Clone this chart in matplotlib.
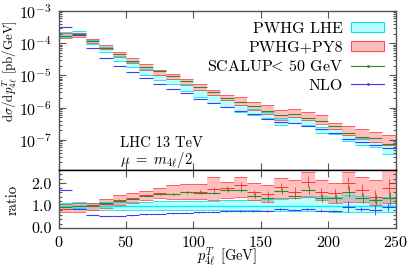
import matplotlib
matplotlib.use("Agg")
import matplotlib.pyplot as plt
import numpy as np
from matplotlib.patches import Patch
from matplotlib.lines import Line2D
from matplotlib.ticker import MultipleLocator, LogLocator, NullFormatter, FormatStrFormatter

plt.rcParams.update({
    "font.family": "serif",
    "font.serif": ["cmr10"],
    "mathtext.fontset": "cm",
    "axes.formatter.use_mathtext": True,
    "font.size": 11.5,
    "axes.unicode_minus": False,
})

# ---------------- data ----------------
bin_edges = list(range(0, 260, 10))

py8_lo = [1.44e-4, 1.58e-4, 9.86e-5, 6.44e-5, 3.66e-5, 2.39e-5, 1.53e-5, 1.07e-5, 7.91e-6, 4.92e-6,
          3.45e-6, 2.43e-6, 1.70e-6, 1.19e-6, 8.38e-7, 6.31e-7, 4.12e-7, 4.99e-7, 4.12e-7, 3.11e-7,
          2.13e-7, 1.43e-7, 1.05e-7, 8.87e-8, 7.01e-8]
py8_hi = [2.06e-4, 2.15e-4, 1.37e-4, 8.55e-5, 5.47e-5, 3.51e-5, 2.29e-5, 1.50e-5, 1.13e-5, 7.91e-6,
          5.28e-6, 3.63e-6, 2.55e-6, 2.15e-6, 1.51e-6, 1.19e-6, 8.38e-7, 8.81e-7, 7.43e-7, 5.88e-7,
          3.41e-7, 2.70e-7, 2.13e-7, 1.80e-7, 1.43e-7]
scalup = [1.70e-4, 1.92e-4, 1.14e-4, 6.92e-5, 4.65e-5, 2.83e-5, 1.89e-5, 1.33e-5, 9.5e-6, 6.68e-6,
          4.36e-6, 3.06e-6, 2.06e-6, 1.51e-6, 1.11e-6, 7.98e-7, 5.88e-7, 6.18e-7, 4.65e-7, 3.84e-7,
          2.70e-7, 1.61e-7, 1.26e-7, 1.13e-7, 7.38e-8]
lhe_lo = [1.51e-4, 2.06e-4, 9.66e-5, 5.21e-5, 2.90e-5, 1.80e-5, 1.07e-5, 7.01e-6, 5.56e-6, 3.29e-6,
          2.15e-6, 1.41e-6, 1.06e-6, 7.43e-7, 5.88e-7, 4.65e-7, 2.90e-7, 3.26e-7, 2.90e-7, 1.61e-7,
          1.53e-7, 9.5e-8, 7.01e-8, 6.22e-8, 3.71e-8]
lhe_hi = [2.31e-4, 2.37e-4, 1.28e-4, 7.43e-5, 4.12e-5, 2.57e-5, 1.64e-5, 1.07e-5, 7.91e-6, 5.56e-6,
          3.45e-6, 2.43e-6, 1.70e-6, 1.19e-6, 9.45e-7, 7.43e-7, 4.65e-7, 4.99e-7, 4.12e-7, 2.57e-7,
          2.13e-7, 1.43e-7, 1.13e-7, 8.87e-8, 7.01e-8]
nlo = [3.22e-4, 1.79e-4, 7.11e-5, 3.51e-5, 2.03e-5, 1.30e-5, 8.09e-6, 5.40e-6, 3.79e-6, 2.85e-6,
       1.92e-6, 1.41e-6, 1.06e-6, 7.80e-7, 6.31e-7, 4.43e-7, 3.58e-7, 3.26e-7, 2.70e-7, 2.13e-7,
       1.68e-7, 1.05e-7, 8.68e-8, 6.87e-8, 5.55e-8]

# ratio panel
r_py8_lo = [0.73, 0.73, 0.81, 0.88, 1.03, 1.11, 1.26, 1.33, 1.29, 1.29, 1.29, 1.26, 1.33, 1.40, 1.26,
            1.18, 1.33, 1.33, 1.40, 1.26, 1.11, 1.18, 1.18, 1.03, 1.11]
r_py8_hi = [1.08, 1.11, 1.13, 1.29, 1.48, 1.56, 1.67, 1.78, 1.93, 1.97, 1.97, 2.30, 2.08, 2.30, 2.00,
            1.93, 2.23, 2.15, 2.52, 2.15, 2.00, 2.52, 2.30, 2.15, 2.60]
r_py8 = [0.85, 0.87, 0.97, 1.08, 1.25, 1.33, 1.46, 1.55, 1.52, 1.60, 1.62, 1.75, 1.78, 1.93, 1.60,
         1.52, 1.85, 1.63, 2.08, 1.60, 1.56, 2.00, 1.70, 1.40, 1.78]
r_py8_err = [0.02, 0.02, 0.02, 0.03, 0.03, 0.03, 0.04, 0.04, 0.05, 0.06, 0.07, 0.08, 0.10, 0.12, 0.10,
             0.12, 0.15, 0.20, 0.25, 0.20, 0.20, 0.30, 0.25, 0.30, 0.40]
r_scalup = [0.96, 0.99, 1.03, 1.11, 1.22, 1.30, 1.43, 1.51, 1.52, 1.60, 1.58, 1.58, 1.70, 1.70, 1.45,
            1.33, 1.66, 1.45, 1.70, 1.33, 1.33, 1.63, 1.33, 1.26, 1.33]
r_scalup_err = [0.02, 0.02, 0.02, 0.03, 0.03, 0.03, 0.04, 0.04, 0.05, 0.05, 0.06, 0.07, 0.08, 0.10, 0.10,
                0.12, 0.14, 0.16, 0.18, 0.18, 0.20, 0.25, 0.22, 0.25, 0.30]
r_lhe_lo = [0.84, 0.88, 0.80, 0.80, 0.80, 0.80, 0.80, 0.80, 0.80, 0.80, 0.80, 0.80, 0.80, 0.80, 0.80,
            0.78, 0.78, 0.76, 0.74, 0.74, 0.73, 0.73, 0.73, 0.73, 0.73]
r_lhe_hi = [1.13, 1.18, 1.13, 1.15, 1.15, 1.18, 1.18, 1.20, 1.20, 1.22, 1.22, 1.22, 1.25, 1.25, 1.25,
            1.28, 1.30, 1.35, 1.45, 1.42, 1.40, 1.50, 1.45, 1.40, 1.40]
r_lhe = [0.98, 1.00, 0.98, 0.98, 0.98, 0.98, 0.98, 0.98, 0.98, 0.98, 0.98, 0.98, 0.98, 0.98, 0.98,
         0.98, 0.98, 0.98, 0.98, 0.98, 0.98, 0.98, 0.98, 0.98, 0.98]
r_nlo = [1.70, 0.84, 0.58, 0.54, 0.54, 0.57, 0.61, 0.63, 0.66, 0.68, 0.70, 0.73, 0.75, 0.76, 0.76,
         0.76, 0.85, 0.81, 0.85, 0.78, 0.76, 0.95, 0.85, 0.81, 0.95]
r_nlo_err = [0.01, 0.01, 0.01, 0.01, 0.01, 0.01, 0.01, 0.01, 0.02, 0.02, 0.02, 0.02, 0.03, 0.03, 0.03,
             0.04, 0.04, 0.05, 0.05, 0.06, 0.06, 0.25, 0.08, 0.22, 0.18]

labels = ["PWHG LHE", "PWHG+PY8", r"SCALUP$\!\!<\!$ 50 GeV", "NLO"]

# ---------------- style ----------------
c_cyan_fill = (0.0, 1.0, 1.0, 0.28)
c_cyan_edge = "#00e6e6"
c_red_fill = (1.0, 0.0, 0.0, 0.25)
c_red_edge = "#ff4d4d"
c_green = "#2b8a2b"
c_blue = "#3c3cff"
frame_c = "#555555"

edges = np.array(bin_edges, dtype=float)
left = edges[:-1]
right = edges[1:]
mid = 0.5 * (left + right)
width = right - left

fig = plt.figure(figsize=(4.07, 2.67), dpi=100)
ax = fig.add_axes([0.144, 0.3633, 0.828, 0.5955])
rax = fig.add_axes([0.144, 0.1461, 0.828, 0.2172], sharex=ax)


def band(a, lo, hi, fill, edge):
    lo = np.asarray(lo)
    hi = np.asarray(hi)
    a.bar(left, hi - lo, bottom=lo, width=width, align="edge", color=fill, lw=0)
    a.hlines(lo, left, right, color=edge, lw=0.6)
    a.hlines(hi, left, right, color=edge, lw=0.6)


# main panel
band(ax, lhe_lo, lhe_hi, c_cyan_fill, c_cyan_edge)
band(ax, py8_lo, py8_hi, c_red_fill, c_red_edge)
ax.hlines(scalup, left, right, color=c_green, lw=0.8)
ax.hlines(nlo, left, right, color=c_blue, lw=0.8)

ax.set_yscale("log")
ax.set_xlim(0, 250)
ax.set_ylim(1.17e-8, 1e-3)
ax.yaxis.set_major_locator(LogLocator(base=10, numticks=12))
ax.yaxis.set_minor_locator(LogLocator(base=10, subs=np.arange(2, 10), numticks=12))
ax.yaxis.set_minor_formatter(NullFormatter())
ax.tick_params(labelbottom=False)
ax.set_ylabel(r"$\mathrm{d}\sigma/\mathrm{d}p_{4\ell}^{T}$ [pb/GeV]", fontsize=9.3)
ax.yaxis.set_label_coords(-0.116, 0.62)

ax.text(0.182, 0.17, "LHC 13 TeV", transform=ax.transAxes, va="center", ha="left", fontsize=10.5)
ax.text(0.182, 0.063, r"$\mu\ =\ m_{4\ell}/2$", transform=ax.transAxes, va="center", ha="left",
        fontsize=10.5)

handles = [
    Patch(facecolor=c_cyan_fill, edgecolor=c_cyan_edge, lw=0.8),
    Patch(facecolor=c_red_fill, edgecolor=c_red_edge, lw=0.8),
    Line2D([], [], color=c_green, lw=0.8, marker=".", markersize=2),
    Line2D([], [], color=c_blue, lw=0.8, marker=".", markersize=2),
]
ax.legend(handles, labels, loc="upper right", frameon=False, markerfirst=False,
          handlelength=2.1, handleheight=0.6, labelspacing=0.3, borderaxespad=0.3,
          handletextpad=0.5, fontsize=11.5)

# ratio panel
band(rax, r_lhe_lo, r_lhe_hi, c_cyan_fill, c_cyan_edge)
rax.hlines(r_lhe, left, right, color="#00f0f0", lw=1.0)
band(rax, r_py8_lo, r_py8_hi, c_red_fill, c_red_edge)
rax.hlines(r_py8, left, right, color="#ff3030", lw=0.7)
rax.vlines(mid, np.array(r_py8) - np.array(r_py8_err), np.array(r_py8) + np.array(r_py8_err),
           color="#ff3030", lw=0.6)
rax.hlines(r_scalup, left, right, color=c_green, lw=0.8)
rax.vlines(mid + 0.5, np.array(r_scalup) - np.array(r_scalup_err), np.array(r_scalup) + np.array(r_scalup_err),
           color=c_green, lw=0.6)
rax.hlines(r_nlo, left, right, color=c_blue, lw=0.8)
rax.vlines(mid - 0.5, np.array(r_nlo) - np.array(r_nlo_err), np.array(r_nlo) + np.array(r_nlo_err),
           color=c_blue, lw=0.6)

rax.set_ylim(0, 2.6)
rax.yaxis.set_major_locator(MultipleLocator(1.0))
rax.yaxis.set_minor_locator(MultipleLocator(0.2))
rax.yaxis.set_major_formatter(FormatStrFormatter("%.1f"))
rax.xaxis.set_major_locator(MultipleLocator(50))
rax.set_xlim(0, 250)
rax.set_ylabel("ratio", fontsize=10.5)
rax.yaxis.set_label_coords(-0.116, 0.48)
rax.set_xlabel(r"$p_{4\ell}^{T}$ [GeV]", fontsize=10.5, va="top")
rax.xaxis.set_label_coords(0.5, -0.31)

for a in (ax, rax):
    a.tick_params(which="both", direction="in", top=True, right=True, colors=frame_c,
                  labelcolor="black", width=0.8)
    a.tick_params(which="major", length=5, labelsize=11.5, pad=5)
    a.tick_params(which="minor", length=2.5)
    for s in a.spines.values():
        s.set_color(frame_c)
        s.set_linewidth(1.0)
ax.spines["bottom"].set_color("black")
rax.spines["top"].set_color("black")

fig.savefig("out.png", dpi=100)
